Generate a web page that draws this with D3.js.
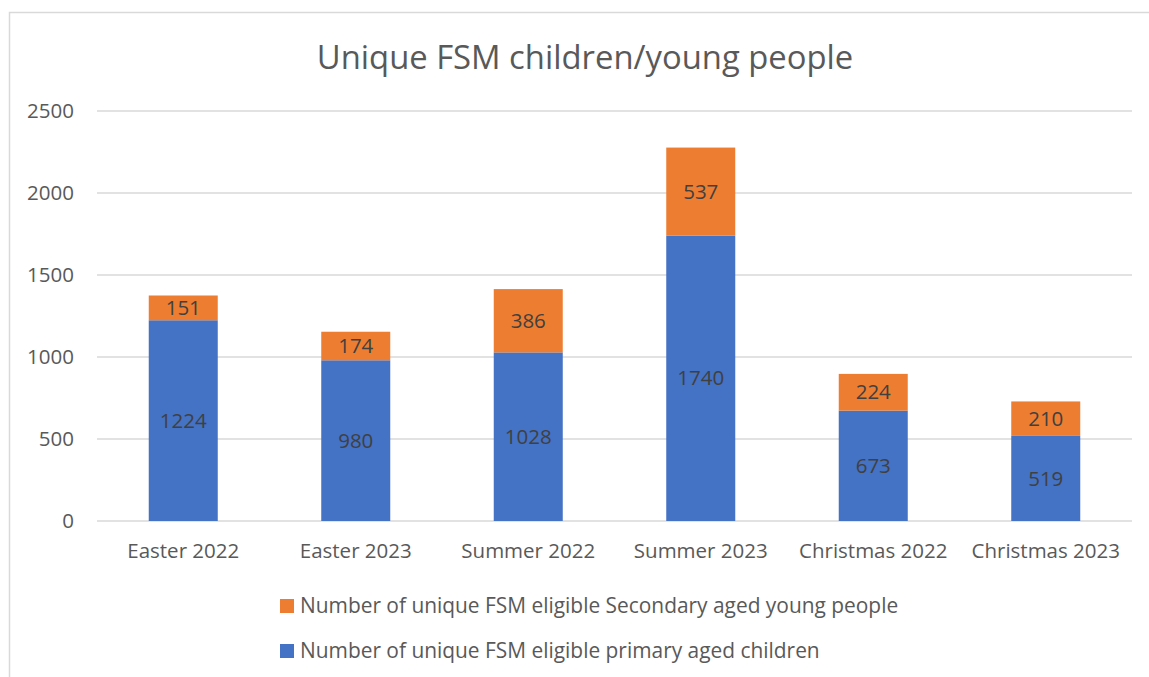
<!DOCTYPE html>
<html>
<head>
<meta charset="utf-8">
<script src="https://cdn.jsdelivr.net/npm/d3@7"></script>
<style>
  html, body { margin: 0; padding: 0; background: #fff; }
  svg { display: block; font-family: "Open Sans", sans-serif; }
</style>
</head>
<body>
<div id="chart"></div>
<script>
const categories = ['Easter 2022', 'Easter 2023', 'Summer 2022', 'Summer 2023', 'Christmas 2022', 'Christmas 2023'];
const primaryValues = [1224, 980, 1028, 1740, 673, 519];
const secondaryValues = [151, 174, 386, 537, 224, 210];
const yTicks = [0, 500, 1000, 1500, 2000, 2500];
const seriesNames = [
  'Number of unique FSM eligible Secondary aged young people',
  'Number of unique FSM eligible primary aged children'
];
const seriesColors = ['#ED7D31', '#4472C4'];

const width = 1149, height = 677;
const margin = { top: 111, right: 17, bottom: 156, left: 97 };

const svg = d3.select('#chart').append('svg')
  .attr('width', width)
  .attr('height', height);

// chart frame
svg.append('rect')
  .attr('x', 9.5).attr('y', 12.5)
  .attr('width', width + 10).attr('height', height + 10)
  .attr('fill', 'none')
  .attr('stroke', '#D9D9D9')
  .attr('stroke-width', 1.5);

const xScale = d3.scaleBand()
  .domain(categories)
  .range([margin.left, width - margin.right])
  .paddingInner(0.6)
  .paddingOuter(0.3);

const yScale = d3.scaleLinear()
  .domain([0, 2500])
  .range([height - margin.bottom, margin.top]);

// gridlines
svg.append('g')
  .selectAll('line')
  .data(yTicks)
  .enter().append('line')
  .attr('x1', margin.left)
  .attr('x2', width - margin.right)
  .attr('y1', d => yScale(d))
  .attr('y2', d => yScale(d))
  .attr('stroke', '#D9D9D9')
  .attr('stroke-width', 1.5);

// y axis labels
const yAxis = svg.append('g')
  .attr('transform', `translate(${margin.left - 23},0)`)
  .call(d3.axisLeft(yScale).tickValues(yTicks).tickFormat(d3.format('d')).tickSize(0).tickPadding(0));
yAxis.select('.domain').remove();
yAxis.selectAll('text')
  .attr('fill', '#595959')
  .style('font-size', '20.5px')
  .style('font-family', '"Open Sans", sans-serif');

// x axis labels
const xAxis = svg.append('g')
  .attr('transform', `translate(0,${height - margin.bottom})`)
  .call(d3.axisBottom(xScale).tickSize(0).tickPadding(22));
xAxis.select('.domain').remove();
xAxis.selectAll('text')
  .attr('fill', '#595959')
  .style('font-size', '20.5px')
  .style('font-family', '"Open Sans", sans-serif');

// stacked bars
const rows = categories.map((c, i) => ({ cat: c, primary: primaryValues[i], secondary: secondaryValues[i] }));

svg.append('g').selectAll('rect')
  .data(rows)
  .enter().append('rect')
  .attr('x', d => xScale(d.cat))
  .attr('y', d => yScale(d.primary))
  .attr('width', xScale.bandwidth())
  .attr('height', d => yScale(0) - yScale(d.primary))
  .attr('fill', seriesColors[1]);

svg.append('g').selectAll('rect')
  .data(rows)
  .enter().append('rect')
  .attr('x', d => xScale(d.cat))
  .attr('y', d => yScale(d.primary + d.secondary))
  .attr('width', xScale.bandwidth())
  .attr('height', d => yScale(d.primary) - yScale(d.primary + d.secondary))
  .attr('fill', seriesColors[0]);

// data labels
svg.append('g').selectAll('text')
  .data(rows)
  .enter().append('text')
  .attr('x', d => xScale(d.cat) + xScale.bandwidth() / 2)
  .attr('y', d => yScale(d.primary / 2))
  .attr('dy', '0.35em')
  .attr('text-anchor', 'middle')
  .attr('fill', '#404040')
  .style('font-size', '20.5px')
  .text(d => d.primary);

svg.append('g').selectAll('text')
  .data(rows)
  .enter().append('text')
  .attr('x', d => xScale(d.cat) + xScale.bandwidth() / 2)
  .attr('y', d => yScale(d.primary + d.secondary / 2))
  .attr('dy', '0.35em')
  .attr('text-anchor', 'middle')
  .attr('fill', '#404040')
  .style('font-size', '20.5px')
  .text(d => d.secondary);

// title
svg.append('text')
  .attr('x', 585)
  .attr('y', 69)
  .attr('text-anchor', 'middle')
  .attr('fill', '#595959')
  .style('font-size', '32.8px')
  .text('Unique FSM children/young people');

// legend
const legend = svg.append('g').selectAll('g')
  .data(seriesNames)
  .enter().append('g')
  .attr('transform', (d, i) => `translate(280,${599 + i * 45})`);

legend.append('rect')
  .attr('width', 14)
  .attr('height', 14)
  .attr('fill', (d, i) => seriesColors[i]);

legend.append('text')
  .attr('x', 20)
  .attr('y', 7)
  .attr('dy', '0.35em')
  .attr('fill', '#595959')
  .style('font-size', '20.9px')
  .text(d => d);
</script>
</body>
</html>
